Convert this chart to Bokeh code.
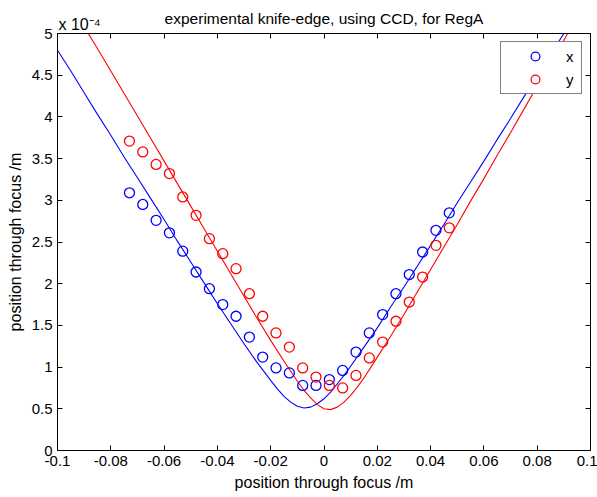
from bokeh.plotting import figure
from bokeh.models import (Range1d, LinearAxis, FixedTicker, CustomJSTickFormatter,
                          Legend, LegendItem, Title)
from bokeh.embed import file_html
from bokeh.resources import INLINE

# ---- data (y values in units of 1e-4 m) ----
pos = [-0.073, -0.068, -0.063, -0.058, -0.053, -0.048, -0.043, -0.038, -0.033, -0.028,
       -0.023, -0.018, -0.013, -0.008, -0.003, 0.002, 0.007, 0.012, 0.017, 0.022,
       0.027, 0.032, 0.037, 0.042, 0.047]
x_width = [3.09, 2.95, 2.76, 2.61, 2.39, 2.14, 1.94, 1.75, 1.61, 1.36,
           1.12, 0.99, 0.93, 0.78, 0.78, 0.85, 0.96, 1.18, 1.41, 1.63,
           1.88, 2.11, 2.38, 2.64, 2.85]
y_width = [3.71, 3.58, 3.43, 3.32, 3.04, 2.82, 2.54, 2.36, 2.18, 1.88,
           1.61, 1.41, 1.24, 0.99, 0.88, 0.78, 0.75, 0.90, 1.11, 1.30,
           1.55, 1.78, 2.08, 2.46, 2.67]

x_fit_pos = [-0.1, -0.095, -0.09, -0.085, -0.08, -0.075, -0.07, -0.065, -0.06, -0.055,
             -0.05, -0.045, -0.04, -0.035, -0.03, -0.025, -0.02,
             -0.0175, -0.015, -0.0125, -0.01, -0.0075, -0.005, -0.0025, 0.0, 0.0025,
             0.005, 0.0075, 0.01,
             0.015, 0.02, 0.025, 0.03, 0.035, 0.04, 0.045, 0.05, 0.055, 0.06, 0.065,
             0.07, 0.075, 0.08, 0.085, 0.09, 0.095, 0.1]
x_fit = [4.80, 4.55, 4.29, 4.03, 3.78, 3.52, 3.27, 3.02, 2.77, 2.51,
         2.26, 2.01, 1.76, 1.52, 1.28, 1.05, 0.84,
         0.74, 0.65, 0.58, 0.53, 0.51, 0.52, 0.56, 0.62, 0.70, 0.80, 0.90, 1.01,
         1.24, 1.47, 1.72, 1.96, 2.21, 2.46, 2.71, 2.97, 3.22, 3.47, 3.73,
         3.98, 4.24, 4.49, 4.75, 5.00, 5.26, 5.52]

y_fit_pos = [-0.1, -0.095, -0.09, -0.085, -0.08, -0.075, -0.07, -0.065, -0.06, -0.055,
             -0.05, -0.045, -0.04, -0.035, -0.03, -0.025, -0.02, -0.015, -0.01,
             -0.0075, -0.005, -0.0025, 0.0, 0.0025, 0.005, 0.0075, 0.01, 0.0125, 0.015,
             0.02, 0.025, 0.03, 0.035, 0.04, 0.045, 0.05, 0.055, 0.06, 0.065, 0.07,
             0.075, 0.08, 0.085, 0.09, 0.095, 0.1]
y_fit = [5.62, 5.36, 5.08, 4.82, 4.55, 4.28, 4.01, 3.74, 3.47, 3.20,
         2.93, 2.66, 2.39, 2.12, 1.85, 1.58, 1.32, 1.07, 0.83,
         0.72, 0.63, 0.55, 0.50, 0.49, 0.52, 0.58, 0.66, 0.76, 0.87,
         1.12, 1.37, 1.63, 1.90, 2.17, 2.44, 2.71, 2.99, 3.26, 3.54, 3.81,
         4.09, 4.37, 4.64, 4.92, 5.20, 5.48]

x_ticks = [-0.1, -0.08, -0.06, -0.04, -0.02, 0.0, 0.02, 0.04, 0.06, 0.08, 0.1]
y_ticks = [0, 0.5, 1, 1.5, 2, 2.5, 3, 3.5, 4, 4.5, 5]

title_text = "experimental knife-edge, using CCD, for RegA"
x_label = "position through focus /m"
y_label = "position through focus /m"
series_names = ["x", "y"]
exp_text = "x 10\u207b\u2074"
BLUE = "#0000ff"
RED = "#ff0000"
FONT = "Liberation Sans"

p = figure(width=597, height=497, output_backend="svg", toolbar_location=None,
           x_range=Range1d(-0.1, 0.1), y_range=Range1d(0, 5),
           min_border_left=57, min_border_right=7, min_border_top=33, min_border_bottom=47,
           background_fill_color="white", border_fill_color="white")
p.grid.visible = False
p.outline_line_color = "black"
p.outline_line_width = 1

fmt = CustomJSTickFormatter(code="return String(Math.round(tick*10000)/10000);")
blank = CustomJSTickFormatter(code="return '';")

def style_axis(ax, ticks, show_labels=True):
    ax.ticker = FixedTicker(ticks=ticks)
    ax.minor_tick_line_color = None
    ax.major_tick_in = 5
    ax.major_tick_out = 0
    ax.major_tick_line_color = "black"
    ax.axis_line_color = "black"
    ax.major_label_text_font = FONT
    ax.major_label_text_color = "black"
    ax.major_label_text_font_size = "15px"
    if show_labels:
        ax.formatter = fmt
        ax.major_label_standoff = 5
    else:
        ax.formatter = blank
        ax.major_label_standoff = 0

style_axis(p.xaxis[0], x_ticks)
style_axis(p.yaxis[0], y_ticks)
p.xaxis[0].axis_label = x_label
p.yaxis[0].axis_label = y_label
for ax in (p.xaxis[0], p.yaxis[0]):
    ax.axis_label_text_font = FONT
    ax.axis_label_text_font_size = "16px"
    ax.axis_label_text_font_style = "normal"
    ax.axis_label_text_color = "black"
    ax.axis_label_standoff = 5

ax_top = LinearAxis()
style_axis(ax_top, x_ticks, show_labels=False)
p.add_layout(ax_top, "above")
ax_right = LinearAxis()
style_axis(ax_right, y_ticks, show_labels=False)
p.add_layout(ax_right, "right")

# exponent marker: a left-aligned title row right above the frame
p.add_layout(Title(text=exp_text, align="left", offset=1, vertical_align="top",
                   standoff=-3, text_font=FONT, text_font_size="16px",
                   text_font_style="normal", text_color="black"), "above")

# main title: outermost row, pulled down with a negative standoff
p.title.text = title_text
p.title.align = "center"
p.title.text_font = FONT
p.title.text_font_size = "15.5px"
p.title.text_font_style = "normal"
p.title.text_color = "black"
p.title.standoff = -18.5

# fits
p.line(x_fit_pos, x_fit, line_color=BLUE, line_width=1.1)
p.line(y_fit_pos, y_fit, line_color=RED, line_width=1.1)

# measured points
rx = p.scatter(pos, x_width, marker="circle", size=10, fill_color=None,
               line_color=BLUE, line_width=1.3)
ry = p.scatter(pos, y_width, marker="circle", size=10, fill_color=None,
               line_color=RED, line_width=1.3)

legend = Legend(items=[LegendItem(label=series_names[0], renderers=[rx]),
                       LegendItem(label=series_names[1], renderers=[ry])],
                location="top_right", margin=8, padding=3, spacing=1,
                glyph_width=62, glyph_height=22, label_height=22, label_width=12,
                label_standoff=0, border_line_color="black", border_line_width=1,
                background_fill_color="white", background_fill_alpha=1,
                label_text_font=FONT, label_text_font_size="15px",
                label_text_color="black")
p.add_layout(legend)

open("out.html", "w").write(file_html(p, INLINE))
